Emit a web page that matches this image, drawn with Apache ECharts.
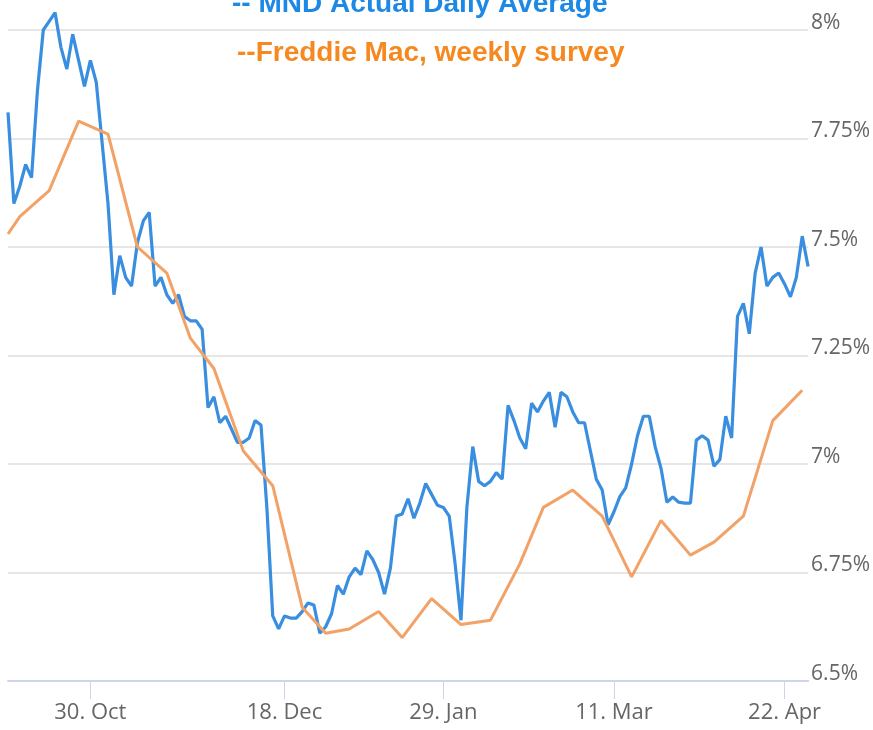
<!DOCTYPE html>
<html>
<head>
<meta charset="utf-8">
<script src="https://cdn.jsdelivr.net/npm/echarts@6/dist/echarts.min.js"></script>
<style>
html, body { margin: 0; padding: 0; background: #ffffff; }
#chart { width: 873px; height: 730px; }
</style>
</head>
<body>
<div id="chart"></div>
<script>
// ---- data ----
const firstDay = '2023-10-10';
const lastDay = '2024-04-26';
const holidays = ['2023-11-23', '2023-11-24', '2023-12-25', '2024-01-01', '2024-01-15', '2024-02-19', '2024-03-29'];

// MND daily average, one value per business day (firstDay .. lastDay)
const mndValues = [
  7.81, 7.60, 7.64, 7.69, 7.66, 7.86, 8.00, 8.02, 8.04, 7.96,
  7.91, 7.99, 7.93, 7.87, 7.93, 7.88, 7.74, 7.60, 7.39, 7.48,
  7.43, 7.41, 7.51, 7.56, 7.58, 7.41, 7.43, 7.39, 7.37, 7.39,
  7.34, 7.33, 7.33, 7.31, 7.13, 7.155, 7.095, 7.11, 7.08, 7.05,
  7.05, 7.06, 7.10, 7.09, 6.90, 6.65, 6.62, 6.65, 6.645, 6.645,
  6.66, 6.68, 6.675, 6.61, 6.625, 6.655, 6.72, 6.70, 6.74, 6.76,
  6.745, 6.80, 6.78, 6.75, 6.70, 6.76, 6.88, 6.885, 6.92, 6.875,
  6.91, 6.955, 6.93, 6.905, 6.90, 6.88, 6.77, 6.64, 6.90, 7.04,
  6.96, 6.95, 6.96, 6.98, 6.965, 7.135, 7.10, 7.06, 7.035, 7.14,
  7.12, 7.145, 7.165, 7.085, 7.165, 7.155, 7.12, 7.095, 7.095, 7.03,
  6.965, 6.94, 6.86, 6.89, 6.925, 6.945, 7.00, 7.065, 7.11, 7.11,
  7.04, 6.99, 6.912, 6.924, 6.912, 6.91, 6.91, 7.055, 7.065, 7.055,
  6.995, 7.01, 7.11, 7.06, 7.34, 7.37, 7.30, 7.44, 7.50, 7.41,
  7.43, 7.44, 7.415, 7.385, 7.43, 7.525, 7.455
];

// Freddie Mac weekly survey
const freddieDates = ['2023-10-10', '2023-10-12', '2023-10-19', '2023-10-26', '2023-11-02', '2023-11-09',
  '2023-11-16', '2023-11-22', '2023-11-30', '2023-12-07', '2023-12-14', '2023-12-21', '2023-12-28',
  '2024-01-04', '2024-01-11', '2024-01-18', '2024-01-25', '2024-02-01', '2024-02-08', '2024-02-15',
  '2024-02-22', '2024-02-29', '2024-03-07', '2024-03-14', '2024-03-21', '2024-03-28', '2024-04-04',
  '2024-04-11', '2024-04-18', '2024-04-25'];
const freddieValues = [7.53, 7.57, 7.63, 7.79, 7.76, 7.50,
  7.44, 7.29, 7.22, 7.03, 6.95, 6.67, 6.61,
  6.62, 6.66, 6.60, 6.69, 6.63, 6.64, 6.77,
  6.90, 6.94, 6.88, 6.74, 6.87, 6.79, 6.82,
  6.88, 7.10, 7.17];

const tickDates = ['2023-10-30', '2023-12-18', '2024-01-29', '2024-03-11', '2024-04-22'];
const tickLabels = ['30. Oct', '18. Dec', '29. Jan', '11. Mar', '22. Apr'];
const yMin = 6.5, yMax = 8, yStep = 0.25;

const titleMnd = '-- MND Actual Daily Average';
const titleFreddie = '--Freddie Mac, weekly survey';

// ---- business-day categories ----
function businessDays(from, to, skip) {
  const out = [];
  const d = new Date(from + 'T00:00:00Z');
  const end = new Date(to + 'T00:00:00Z');
  while (d <= end) {
    const wd = d.getUTCDay();
    const s = d.toISOString().slice(0, 10);
    if (wd !== 0 && wd !== 6 && skip.indexOf(s) < 0) out.push(s);
    d.setUTCDate(d.getUTCDate() + 1);
  }
  return out;
}
const categories = businessDays(firstDay, lastDay, holidays);

const labelFont = '"Open Sans", "Liberation Sans", sans-serif';
const isTick = (i, v) => tickDates.indexOf(v) >= 0;

const chart = echarts.init(document.getElementById('chart'), null, { renderer: 'canvas' });
chart.setOption({
  animation: false,
  backgroundColor: '#ffffff',
  grid: { left: 8, right: 62, top: 30, bottom: 49, containLabel: false },
  xAxis: {
    type: 'category',
    data: categories,
    boundaryGap: false,
    axisLine: { lineStyle: { color: '#ccd6eb', width: 2 } },
    axisTick: { interval: isTick, length: 18, lineStyle: { color: '#ccd6eb', width: 1 } },
    axisLabel: {
      interval: isTick,
      formatter: v => tickLabels[tickDates.indexOf(v)] || '',
      fontSize: 22, color: '#666666', fontFamily: labelFont, margin: 21
    },
    splitLine: { show: false }
  },
  yAxis: {
    type: 'value',
    position: 'right',
    min: yMin, max: yMax, interval: yStep,
    axisLine: { show: false },
    axisTick: { show: false },
    splitLine: { lineStyle: { color: '#e6e6e6', width: 2 } },
    axisLabel: {
      formatter: v => v + '%',
      fontSize: 21, color: '#666666', fontFamily: labelFont,
      margin: 3, align: 'left', verticalAlign: 'bottom', lineHeight: 14
    }
  },
  series: [
    {
      name: 'MND Actual Daily Average',
      type: 'line',
      data: mndValues,
      showSymbol: false,
      clip: false,
      lineStyle: { color: '#3a8ee0', width: 3.2 },
      itemStyle: { color: '#3a8ee0' },
      z: 2
    },
    {
      name: 'Freddie Mac, weekly survey',
      type: 'line',
      data: freddieDates.map((d, i) => [d, freddieValues[i]]),
      showSymbol: false,
      clip: false,
      lineStyle: { color: '#f2a266', width: 3 },
      itemStyle: { color: '#f2a266' },
      z: 3
    }
  ],
  graphic: [
    {
      type: 'text', left: 232, top: -10,
      style: { text: titleMnd, fill: '#1e88e5', font: 'bold 28px "Liberation Sans", Arial, sans-serif' }
    },
    {
      type: 'text', left: 237, top: 39,
      style: { text: titleFreddie, fill: '#f5891f', font: 'bold 28px "Liberation Sans", Arial, sans-serif' }
    }
  ]
});
</script>
</body>
</html>
